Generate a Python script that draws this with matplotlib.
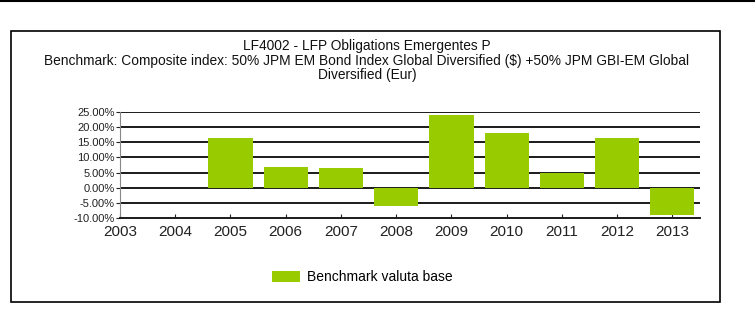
import matplotlib
matplotlib.use('Agg')
import matplotlib.pyplot as plt
from matplotlib.patches import Rectangle
from matplotlib.lines import Line2D
from matplotlib.ticker import FuncFormatter

years = ['2003', '2004', '2005', '2006', '2007', '2008',
         '2009', '2010', '2011', '2012', '2013']
bench = [None, None, 16.4, 6.9, 6.4, -5.9, 24.1, 18.2, 4.7, 16.4, -9.0]
yticks = [-10, -5, 0, 5, 10, 15, 20, 25]
title_lines = [
    'LF4002 - LFP Obligations Emergentes P',
    'Benchmark: Composite index: 50% JPM EM Bond Index Global Diversified ($) +50% JPM GBI-EM Global',
    'Diversified (Eur)',
]
series_name = 'Benchmark valuta base'

W, H = 755, 331
plt.rcParams['font.family'] = ['Liberation Sans', 'DejaVu Sans']

fig = plt.figure(figsize=(W / 100, H / 100), dpi=100)

# outer frame
fig.add_artist(Line2D([0, 1], [1 - 1 / H, 1 - 1 / H], color='black', lw=1.5,
                      transform=fig.transFigure))
fig.add_artist(Rectangle((11 / W, 1 - 302 / H), (720 - 11) / W, (302 - 31) / H,
                         fill=False, edgecolor='black', lw=1.2,
                         transform=fig.transFigure))

# title
for txt, yy in zip(title_lines, [46, 61, 75]):
    fig.text(367 / W, 1 - yy / H, txt, ha='center', va='center',
             fontsize=9.9, color='#111111')

ax = fig.add_axes([120 / W, 1 - 218 / H, 580 / W, 106 / H])
xs = [i for i, v in enumerate(bench) if v is not None]
vals = [v for v in bench if v is not None]
bars = ax.bar(xs, vals, width=0.8, color='#99cc00', zorder=3,
              label=series_name)

for t in yticks[1:]:
    ax.axhline(t, color='#1a1a1a', lw=1.4, zorder=2)

ax.set_xlim(0, 10.5)
ax.set_ylim(-10, 25)
ax.set_yticks(yticks)
ax.yaxis.set_major_formatter(FuncFormatter(lambda v, p: '%.2f%%' % v))
ax.set_xticks(range(len(years)))
ax.set_xticklabels(years)
ax.tick_params(axis='y', labelsize=8, length=3, width=0.8, pad=1,
               colors='#222222')
ax.tick_params(axis='x', labelsize=11, direction='in', length=3, width=0.8,
               pad=5, colors='#222222')
for s in ['top', 'right']:
    ax.spines[s].set_visible(False)
ax.spines['bottom'].set_color('#1a1a1a')
ax.spines['bottom'].set_linewidth(1.4)
ax.spines['left'].set_color('#888888')
ax.spines['left'].set_linewidth(0.8)

fig.legend(handles=[bars], labels=[series_name], loc='center left',
           bbox_to_anchor=(272 / W, 1 - 277 / H), frameon=False,
           fontsize=10, handlelength=2.0, handleheight=0.85,
           handletextpad=0.5, borderpad=0, borderaxespad=0)

fig.savefig('out.png', dpi=100)
